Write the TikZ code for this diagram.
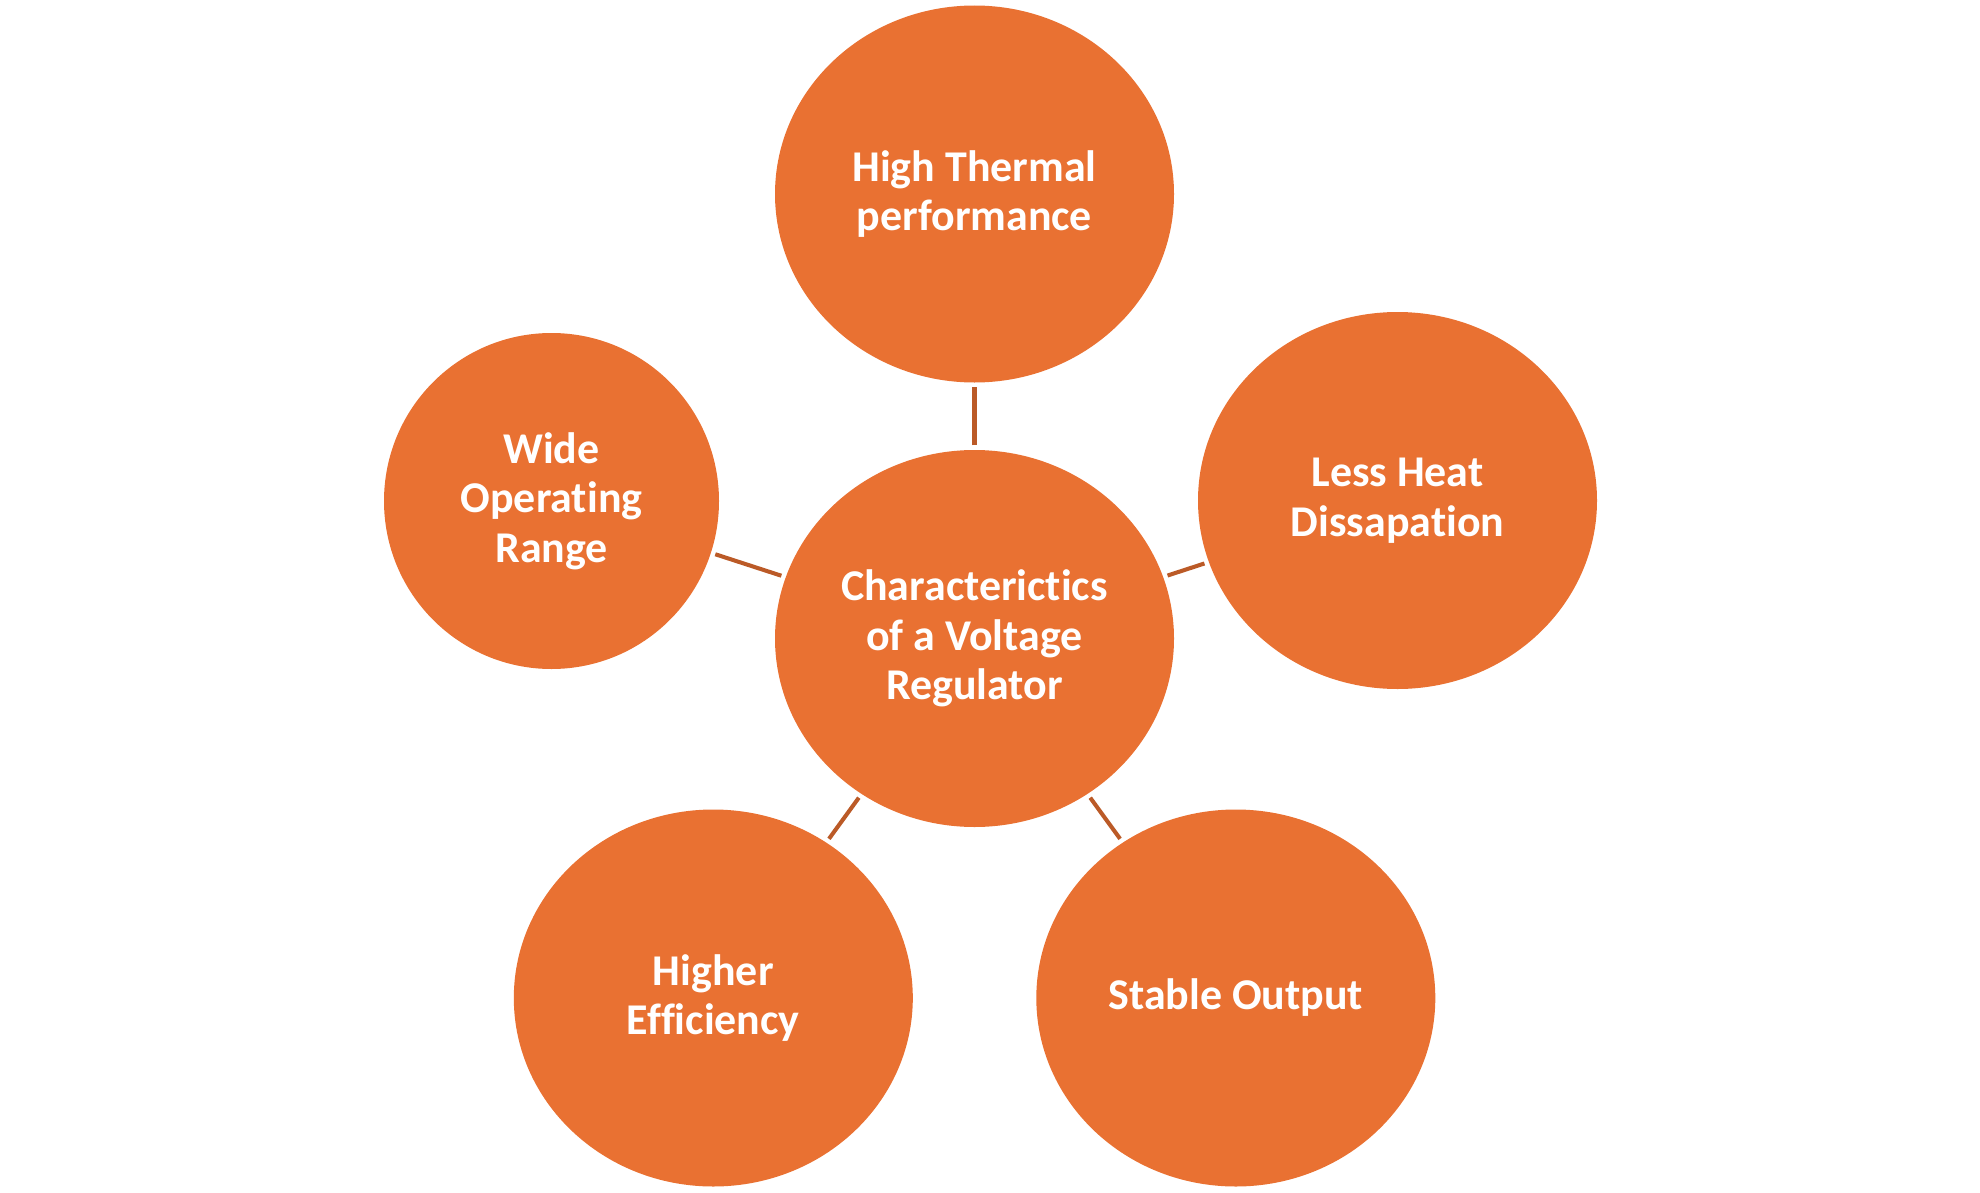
\documentclass[tikz,border=0pt]{standalone}
\usepackage{fontspec}
\setmainfont{Carlito}[Ligatures=NoCommon]
\usepackage{tikz}
\usetikzlibrary{shapes.geometric}
\definecolor{vrorange}{HTML}{E97132}
\definecolor{vrlink}{HTML}{BB5A27}
\tikzset{
  vbubble/.style = {ellipse, fill=vrorange, draw=none, inner sep=0pt,
                    minimum width=3.99cm, minimum height=3.77cm,
                    text=white, align=center,
                    font=\fontsize{12.5}{14.1}\selectfont\bfseries},
  vsmall/.style  = {vbubble, minimum width=3.35cm, minimum height=3.36cm},
  vlink/.style   = {draw=vrlink, line width=1.15pt,
                    shorten <=0.04cm, shorten >=0.04cm},
}

\begin{document}
\begin{tikzpicture}[x=1cm, y=1cm]
  \useasboundingbox (0,0) rectangle (19.8,-11.92);
  \node[vbubble] (chr)     at (9.745,-6.385)  {Characterictics\\of a Voltage\\Regulator};
  \node[vbubble] (thermal) at (9.745,-1.94)   {High Thermal\\performance};
  \node[vbubble] (heat)    at (13.975,-5.005) {Less Heat\\Dissapation};
  \node[vbubble] (stable)  at (12.358,-9.98)  {Stable Output};
  \node[vbubble] (effic)   at (7.133,-9.98)   {Higher\\Efficiency};
  \node[vsmall]  (range)   at (5.515,-5.01)   {Wide\\Operating\\Range};
  \draw[vlink] (chr) -- (thermal);
  \draw[vlink] (chr) -- (heat);
  \draw[vlink] (chr) -- (stable);
  \draw[vlink] (chr) -- (effic);
  \draw[vlink] (chr) -- (range);
\end{tikzpicture}
\end{document}
